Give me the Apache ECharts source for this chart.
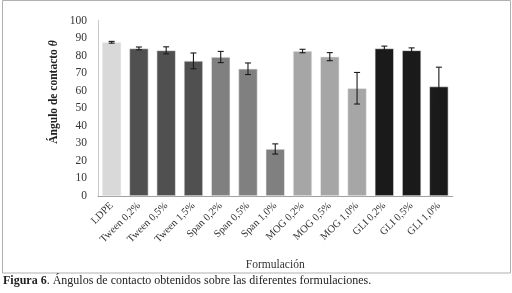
<!DOCTYPE html>
<html>
<head>
<meta charset="utf-8">
<script src="https://cdn.jsdelivr.net/npm/echarts@6/dist/echarts.min.js"></script>
<style>
  html, body { margin: 0; padding: 0; background: #fff; }
  #chart { width: 512px; height: 293px; }
</style>
</head>
<body>
<div id="chart"></div>
<script>
const categories = ['LDPE', 'Tween 0,2%', 'Tween 0,5%', 'Tween 1,5%', 'Span 0,2%', 'Span 0,5%', 'Span 1,0%',
    'MOG 0,2%', 'MOG 0,5%', 'MOG 1,0%', 'GLI 0,2%', 'GLI 0,5%', 'GLI 1,0%'];
const angles = [87.6, 84.1, 83.0, 77.0, 79.2, 72.5, 26.8, 82.6, 79.4, 61.4, 84.1, 83.0, 62.4];
const errors = [0.5, 0.8, 2.0, 4.5, 3.2, 3.3, 2.9, 1.0, 2.3, 9.0, 1.3, 1.4, 11.0];
const yTicks = [0, 100, 10];

// un color por grupo de formulación
const barColors = ['#d9d9d9', '#505050', '#505050', '#505050', '#808080', '#808080', '#808080',
    '#a6a6a6', '#a6a6a6', '#a6a6a6', '#1a1a1a', '#1a1a1a', '#1a1a1a'];

const chart = echarts.init(document.getElementById('chart'));
const serif = '"Liberation Serif", "DejaVu Serif", serif';

option = {
    animation: false,
    grid: {
        left: 98,
        right: 59.5,
        top: 20.5,
        bottom: 97
    },
    xAxis: {
        type: 'category',
        data: categories,
        name: 'Formulación',
        nameLocation: 'middle',
        nameGap: 63,
        nameTextStyle: { fontFamily: serif, fontSize: 11.5, color: '#333' },
        axisTick: { show: false },
        axisLine: { lineStyle: { color: '#a0a0a0', width: 1 } },
        axisLabel: {
            rotate: 45,
            interval: 0,
            margin: 8,
            fontFamily: serif,
            fontSize: 10.5,
            color: '#333'
        }
    },
    yAxis: {
        type: 'value',
        min: yTicks[0],
        max: yTicks[1],
        interval: yTicks[2],
        splitLine: { show: false },
        axisTick: { show: false },
        axisLine: { show: true, lineStyle: { color: '#c8c8c8', width: 1 } },
        axisLabel: {
            margin: 11,
            fontFamily: serif,
            fontSize: 11.5,
            color: '#333'
        }
    },
    series: [
        {
            type: 'bar',
            barCategoryGap: '30%',
            data: angles.map(function (v, i) {
                return { value: v, itemStyle: { color: barColors[i] } };
            }),
            itemStyle: { borderColor: '#eeeeee', borderWidth: 0.6 }
        },
        {
            type: 'custom',
            data: angles.map(function (v, i) { return [i, v - errors[i], v + errors[i]]; }),
            encode: { x: 0, y: [1, 2] },
            z: 5,
            renderItem: function (params, api) {
                const lo = api.coord([api.value(0), api.value(1)]);
                const hi = api.coord([api.value(0), api.value(2)]);
                const hw = 3;
                const style = { stroke: '#1a1a1a', lineWidth: 1.1 };
                return {
                    type: 'group',
                    children: [
                        { type: 'line', shape: { x1: hi[0], y1: hi[1], x2: lo[0], y2: lo[1] }, style: style },
                        { type: 'line', shape: { x1: hi[0] - hw, y1: hi[1], x2: hi[0] + hw, y2: hi[1] }, style: style },
                        { type: 'line', shape: { x1: lo[0] - hw, y1: lo[1], x2: lo[0] + hw, y2: lo[1] }, style: style }
                    ]
                };
            }
        }
    ],
    graphic: [
        {
            type: 'rect',
            shape: { x: 2.5, y: 0.5, width: 508, height: 272.5 },
            style: { fill: 'none', stroke: '#b0b0b0', lineWidth: 1 },
            silent: true
        },
        {
            type: 'text',
            x: 54,
            y: 92,
            rotation: Math.PI / 2,
            style: {
                text: 'Ángulo de contacto {i|θ}',
                fontFamily: serif,
                fontSize: 11.5,
                fontWeight: 'bold',
                fill: '#222',
                align: 'center',
                verticalAlign: 'middle',
                rich: {
                    i: { fontFamily: serif, fontSize: 11.5, fontWeight: 'bold', fontStyle: 'italic', fill: '#222' }
                }
            }
        },
        {
            type: 'text',
            left: 3,
            top: 275,
            style: {
                text: '{b|Figura 6}. Ángulos de contacto obtenidos sobre las diferentes formulaciones.',
                fontFamily: serif,
                fontSize: 12,
                fill: '#222',
                rich: {
                    b: { fontFamily: serif, fontSize: 12, fontWeight: 'bold', fill: '#222' }
                }
            }
        }
    ]
};
chart.setOption(option);
</script>
</body>
</html>
